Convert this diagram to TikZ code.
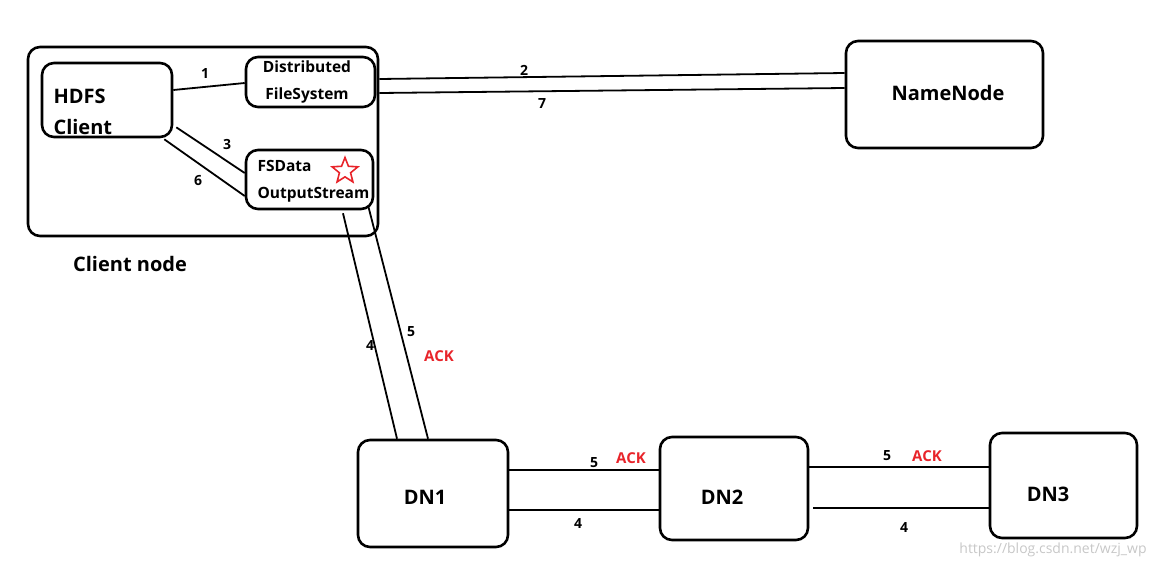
\documentclass[tikz,border=0pt]{standalone}
\usepackage{fontspec}
\setsansfont{Open Sans}
\usetikzlibrary{shapes.geometric}
\definecolor{ackred}{RGB}{232,36,42}
\begin{document}
\begin{tikzpicture}[x=1pt,y=-1pt,
    box/.style={draw,line width=2.6pt,rounded corners=12pt,inner sep=0pt},
    main node/.style={font=\sffamily\bfseries\fontsize{20}{31}\selectfont},
    small node/.style={font=\sffamily\bfseries\fontsize{15.5}{27}\selectfont},
    num/.style={font=\sffamily\bfseries\fontsize{14}{16}\selectfont,inner sep=0pt},
    ack/.style={num,text=ackred,font=\sffamily\bfseries\fontsize{15}{16}\selectfont},
    link/.style={line width=1.8pt}]
    \useasboundingbox (0,0) rectangle (1162,568);

    % Define vertices
    \node[box,minimum width=350,minimum height=189] (client) at (203,141.5) {};
    \node[box,minimum width=130,minimum height=74] (hdfs) at (107,100) {};
    \node[main node,align=left,anchor=west] (hdfstext) at (50,112) {HDFS\\Client};
    \node[box,minimum width=129,minimum height=50] (dfs) at (310.5,82) {};
    \node[small node,align=center] (dfstext) at (307,82) {Distributed\\FileSystem};
    \node[box,minimum width=127,minimum height=59] (fso) at (309.5,179.5) {};
    \node[small node,align=left,anchor=west] (fsotext) at (254,181) {FSData\\OutputStream};
    \node[star,star points=5,star point ratio=2.3,draw=ackred,line width=1.6pt,
          minimum size=27pt,inner sep=0pt] (mark) at (345,171) {};
    \node[main node] (clientlabel) at (130,264) {Client node};
    \node[box,minimum width=197,minimum height=107] (namenode) at (944.5,94.5) {};
    \node[main node] (nntext) at (948,93) {NameNode};
    \node[box,minimum width=150,minimum height=107] (dn1) at (433,493.5) {};
    \node[main node] (dn1text) at (425,497) {DN1};
    \node[box,minimum width=148,minimum height=103] (dn2) at (734,488.5) {};
    \node[main node] (dn2text) at (722,497) {DN2};
    \node[box,minimum width=147,minimum height=105] (dn3) at (1063.5,485.5) {};
    \node[main node] (dn3text) at (1048,494) {DN3};

    % Draw edges
    \path[link]
        ([yshift=10pt]hdfs.east) edge ([yshift=-1pt]dfs.west)
        ([xshift=3pt,yshift=11pt]hdfs.south east) edge ([yshift=6.5pt]fso.west)
        ([xshift=-9pt,yshift=-1pt]hdfs.south east) edge ([yshift=-16.5pt]fso.west)
        ([xshift=3pt,yshift=3pt]dfs.east) edge ([yshift=21.5pt]namenode.west)
        ([xshift=3pt,yshift=-11pt]dfs.east) edge ([yshift=6.5pt]namenode.west)
        ([xshift=33.5pt,yshift=-3pt]fso.south) edge ([xshift=-36pt]dn1.north)
        ([xshift=-6pt,yshift=4pt]fso.south east) edge ([xshift=-5pt]dn1.north)
        ([yshift=23.5pt]dn1.east) edge ([yshift=18.5pt]dn2.west)
        ([yshift=-16.5pt]dn1.east) edge ([yshift=-21.5pt]dn2.west)
        ([yshift=21.5pt]dn2.east) edge ([yshift=18.5pt]dn3.west)
        ([xshift=4pt,yshift=-19.5pt]dn2.east) edge ([yshift=-22.5pt]dn3.west);

    % Edge labels
    \node[num] (n1) at (205,73) {1};
    \node[num] (n3) at (227,144) {3};
    \node[num] (n6) at (198,181) {6};
    \node[num] (n2) at (524,70) {2};
    \node[num] (n7) at (542,104) {7};
    \node[num] (n4a) at (370,345) {4};
    \node[num] (n5a) at (411,332) {5};
    \node[ack] (acka) at (439,356) {ACK};
    \node[num] (n5b) at (594,463) {5};
    \node[ack] (ackb) at (631,458) {ACK};
    \node[num] (n4b) at (578,523) {4};
    \node[num] (n5c) at (887,456) {5};
    \node[ack] (ackc) at (927,456) {ACK};
    \node[num] (n4c) at (904,527) {4};

    \node[font=\sffamily\fontsize{14}{16}\selectfont,text=black!22] (mark2) at (1053,550) {https://blog.csdn.net/wzj\_wp};
\end{tikzpicture}
\end{document}
